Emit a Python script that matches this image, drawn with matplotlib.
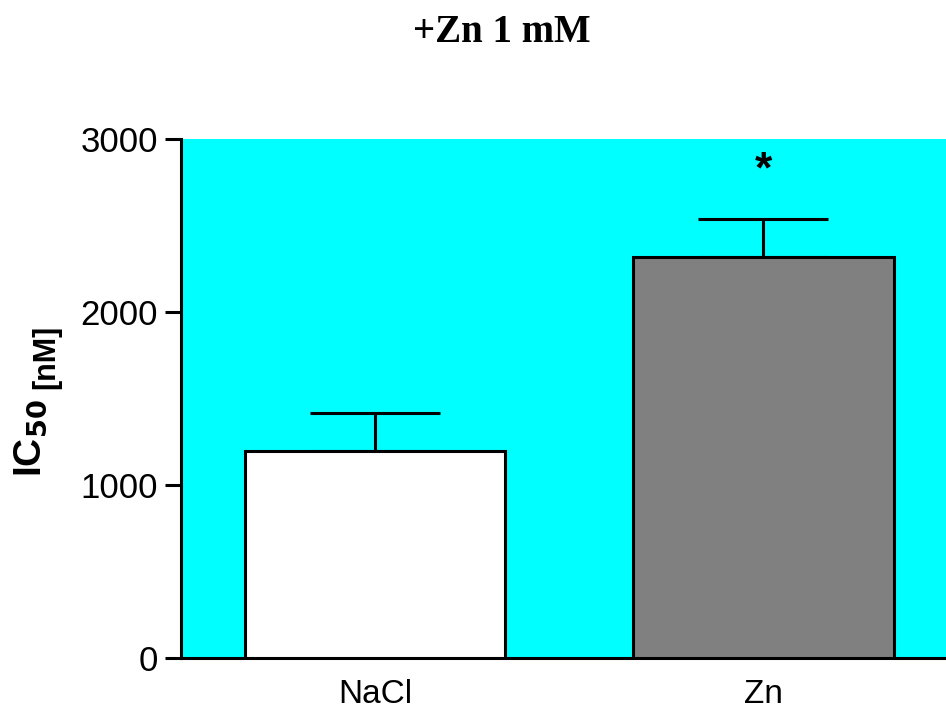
import numpy as np
import matplotlib.pyplot as plt

# IC50 values (nM) with SEM, 1 mM Zn condition
groups = ['NaCl', 'Zn']
ic50 = [1195, 2320]
sem = [222, 215]
bar_colors = ['white', '#808080']
yticks = [0, 1000, 2000, 3000]

plt.rcParams['font.family'] = 'Liberation Sans'

fig = plt.figure(figsize=(9.46, 7.11), dpi=100)
ax = fig.add_axes([181 / 946, 53 / 711, 765 / 946, 519 / 711])
ax.set_facecolor('#00ffff')

x = np.arange(len(groups))
ax.bar(x, ic50, width=0.67, color=bar_colors, edgecolor='black',
       linewidth=2.2, zorder=3)
ax.errorbar(x, ic50, yerr=[np.zeros(len(sem)), sem], fmt='none',
            ecolor='black', elinewidth=2.2, capsize=47, capthick=2.2, zorder=2)

# significance mark over the Zn bar
ax.text(1, ic50[1] + sem[1] + 280, '*', ha='center', va='center',
        fontsize=32, fontweight='bold')

ax.set_xlim(-0.5, 1.47)
ax.set_ylim(0, 3000)
ax.set_yticks(yticks)
ax.set_xticks(x)
ax.set_xticklabels(groups)
ax.tick_params(axis='y', length=11.5, width=2.2, labelsize=25, pad=5)
ax.tick_params(axis='x', length=0, labelsize=24, pad=15)
for side in ['top', 'right']:
    ax.spines[side].set_visible(False)
for side in ['left', 'bottom']:
    ax.spines[side].set_linewidth(2.2)

# y label built from two pieces: IC50 and the unit
fig.text(31 / 946, 234 / 711, r'IC$_{\mathbf{50}}$', rotation=90,
         ha='center', va='bottom', fontsize=28, fontweight='bold')
fig.text(46 / 946, 322 / 711, '[nM]', rotation=90,
         ha='center', va='bottom', fontsize=22, fontweight='bold')

fig.text(502 / 946, 679 / 711, '+Zn 1 mM', ha='center', va='center',
         fontsize=28, fontweight='bold', family='Liberation Serif')

fig.savefig('out.png', dpi=100)
